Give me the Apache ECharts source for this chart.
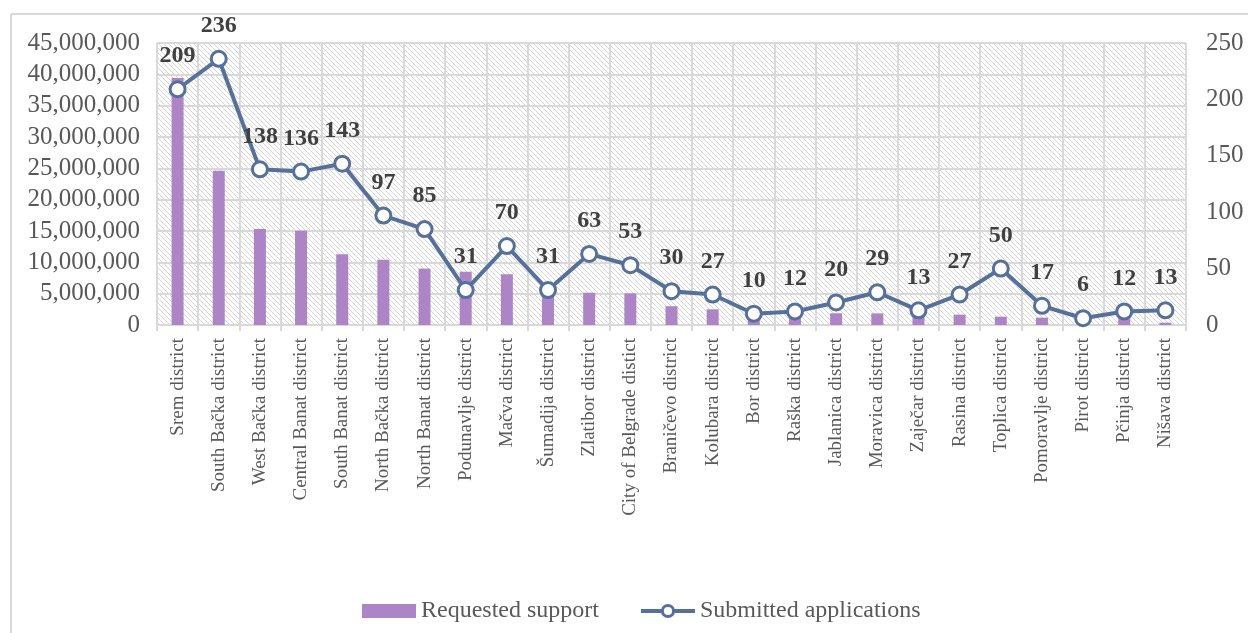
<!DOCTYPE html>
<html>
<head>
<meta charset="utf-8">
<script src="https://cdn.jsdelivr.net/npm/echarts@6/dist/echarts.min.js"></script>
<style>
  html, body { margin: 0; padding: 0; background: #fff; }
  #main { width: 1248px; height: 633px; }
</style>
</head>
<body>
<div id="main"></div>
<script>
let districts = [
  "Srem district", "South Bačka district", "West Bačka district", "Central Banat district",
  "South Banat district", "North Bačka district", "North Banat district", "Podunavlje district",
  "Mačva district", "Šumadija district", "Zlatibor district", "City of Belgrade distict",
  "Braničevo district", "Kolubara district", "Bor district", "Raška district",
  "Jablanica district", "Moravica district", "Zaječar district", "Rasina district",
  "Toplica district", "Pomoravlje district", "Pirot district", "Pčinja district", "Nišava district"
];
let requestedSupport = [
  39400000, 24600000, 15300000, 15050000, 11300000, 10400000, 9000000, 8500000,
  8100000, 5500000, 5150000, 5050000, 3000000, 2500000, 800000, 1100000,
  1870000, 1850000, 1500000, 1650000, 1330000, 1170000, 800000, 1200000, 370000
];
let submittedApplications = [
  209, 236, 138, 136, 143, 97, 85, 31, 70, 31, 63, 53, 30, 27, 10, 12,
  20, 29, 13, 27, 50, 17, 6, 12, 13
];

// diagonal hatch for the plot background
let makeHatch = () => {
  let c = document.createElement("canvas");
  c.width = 5;
  c.height = 5;
  let ctx = c.getContext("2d");
  ctx.fillStyle = "#ffffff";
  ctx.fillRect(0, 0, 5, 5);
  ctx.strokeStyle = "#d6d6d6";
  ctx.lineWidth = 1;
  ctx.beginPath();
  ctx.moveTo(-1, -1);
  ctx.lineTo(6, 6);
  ctx.moveTo(-1, 4);
  ctx.lineTo(1, 6);
  ctx.moveTo(4, -1);
  ctx.lineTo(6, 1);
  ctx.stroke();
  return c;
};

let font = "'Liberation Serif', 'DejaVu Serif', serif";

let option = {
  animation: false,
  textStyle: { fontFamily: font },
  graphic: [
    { type: "line", shape: { x1: 11, y1: 14, x2: 1248, y2: 14 }, style: { stroke: "#d9d9d9", lineWidth: 2 } },
    { type: "line", shape: { x1: 11, y1: 14, x2: 11, y2: 633 }, style: { stroke: "#d9d9d9", lineWidth: 2 } }
  ],
  grid: {
    left: 157,
    right: 62,
    top: 43,
    bottom: 308,
    show: true,
    borderWidth: 0,
    backgroundColor: { image: makeHatch(), repeat: "repeat" }
  },
  legend: {
    top: 594,
    left: 357,
    itemGap: 40,
    textStyle: { fontFamily: font, fontSize: 24, color: "#595959" },
    data: [
      { name: "Requested support", icon: "rect" },
      {
        name: "Submitted applications",
        lineStyle: { width: 4 },
        itemStyle: { borderWidth: 3 }
      }
    ],
    itemWidth: 54,
    itemHeight: 14
  },
  xAxis: {
    type: "category",
    data: districts,
    boundaryGap: true,
    axisLine: { lineStyle: { color: "#d9d9d9", width: 2 } },
    axisTick: { show: true, length: 6, interval: 0, lineStyle: { color: "#d9d9d9", width: 2 } },
    splitLine: { show: true, interval: 0, lineStyle: { color: "#d9d9d9", width: 2 } },
    axisLabel: {
      interval: 0,
      rotate: 90,
      margin: 13,
      fontFamily: font,
      fontSize: 19,
      color: "#595959"
    }
  },
  yAxis: [
    {
      type: "value",
      min: 0,
      max: 45000000,
      interval: 5000000,
      axisLine: { show: false },
      axisTick: { show: false },
      splitLine: { show: true, lineStyle: { color: "#d9d9d9", width: 2 } },
      axisLabel: {
        margin: 17,
        fontFamily: font,
        fontSize: 25,
        color: "#595959",
        formatter: (v) => v.toLocaleString("en-US")
      }
    },
    {
      type: "value",
      min: 0,
      max: 250,
      interval: 50,
      position: "right",
      axisLine: { show: false },
      axisTick: { show: false },
      splitLine: { show: false },
      axisLabel: {
        margin: 20,
        fontFamily: font,
        fontSize: 25,
        color: "#595959"
      }
    }
  ],
  series: [
    {
      name: "Requested support",
      type: "bar",
      yAxisIndex: 0,
      barWidth: 12,
      itemStyle: { color: "#ad84c6" },
      data: requestedSupport
    },
    {
      name: "Submitted applications",
      type: "line",
      yAxisIndex: 1,
      symbol: "circle",
      symbolSize: 15,
      lineStyle: { color: "#56709c", width: 4 },
      itemStyle: { color: "#ffffff", borderColor: "#56709c", borderWidth: 3 },
      label: {
        show: true,
        position: "top",
        distance: 12,
        fontFamily: font,
        fontSize: 24,
        fontWeight: "bold",
        color: "#404040"
      },
      data: submittedApplications
    }
  ]
};

var myChart = echarts.init(document.getElementById("main"));
myChart.setOption(option);
</script>
</body>
</html>
